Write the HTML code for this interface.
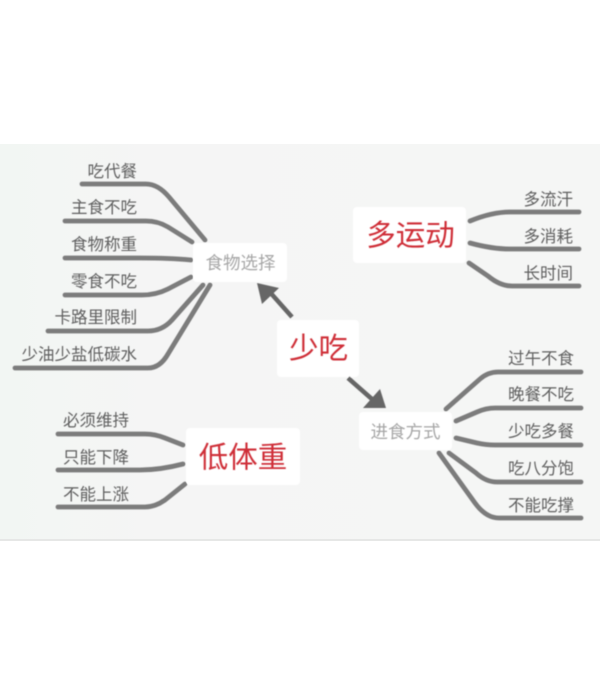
<!DOCTYPE html>
<html><head><meta charset="utf-8"><style>
html,body{margin:0;padding:0;background:#fff}
svg{display:block}
text{font-family:"Liberation Sans","Noto Sans CJK SC",sans-serif}
.l{font-size:16.5px;fill:#5f5f5f;text-anchor:end;dominant-baseline:central}
.c{fill:none;stroke:#7b7b7b;stroke-width:4.8;stroke-linecap:round}
.r{font-size:29.500px;fill:#cf2f38;text-anchor:middle;dominant-baseline:central}
.g{font-size:17.500px;fill:#a6a6a6;text-anchor:middle;dominant-baseline:central}
</style></head><body>
<svg width="600" height="684" viewBox="0 0 600 684" xmlns="http://www.w3.org/2000/svg">
<defs>
<linearGradient id="bg" x1="0" x2="1" y1="0" y2="0"><stop offset="0" stop-color="#f2f6f3"/><stop offset=".25" stop-color="#f5f5f5"/><stop offset="1" stop-color="#f5f6f5"/></linearGradient>
<filter id="b" x="-5%" y="-5%" width="110%" height="110%"><feGaussianBlur stdDeviation="0.45"/></filter>
</defs>
<rect x="0" y="144" width="600" height="396" fill="url(#bg)"/>
<rect x="0" y="539" width="600" height="2" fill="#e6e7e6"/>
<g filter="url(#b)">
<path class="c" d="M82 184H146Q158 184 169 197L205 240"/>
<path class="c" d="M65 221H146Q158 221 168 227L192 242"/>
<path class="c" d="M65 258H140Q170 258 191 260"/>
<path class="c" d="M65 295H142Q156 295 168 289L191 277"/>
<path class="c" d="M48 331H148Q162 331 172 320L203 285"/>
<path class="c" d="M15 368H148Q160 368 168 354L210 285"/>
<path class="c" d="M470 221Q492 212 510 212H579"/>
<path class="c" d="M470 243Q492 249 510 249H579"/>
<path class="c" d="M469 263L488 276Q500 286 512 286H579"/>
<path class="c" d="M446 409L480 379Q488 372 498 372H581"/>
<path class="c" d="M456 421L477 412Q486 408 495 408H581"/>
<path class="c" d="M456 438L477 443Q486 445 495 445H581"/>
<path class="c" d="M449 453L476 473Q486 482 497 482H581"/>
<path class="c" d="M439 453L475 503Q486 518 499 518H581"/>
<path class="c" d="M58 434H145Q155 434 165 438L183 445"/>
<path class="c" d="M58 470H140Q160 470 183 464"/>
<path class="c" d="M58 507H145Q155 507 165 500L185 484"/>
</g>
<g filter="url(#b)">
<rect x="193" y="243" width="94" height="39" rx="4" fill="#fff"/>
<rect x="359" y="412" width="93" height="38" rx="4" fill="#fff"/>
<rect x="277" y="320" width="82" height="57" rx="4" fill="#fff"/>
<rect x="353" y="207" width="113" height="56" rx="4" fill="#fff"/>
<rect x="186" y="428" width="114" height="57" rx="4" fill="#fff"/>
<path d="M292 317L268 290" stroke="#666" stroke-width="4.500" fill="none"/>
<path d="M257 283L279 288L262 304Z" fill="#666"/>
<path d="M348 378L373 400" stroke="#666" stroke-width="4.500" fill="none"/>
<path d="M386 408L363 408L380 389Z" fill="#666"/>
</g>
<g filter="url(#b)">
<text class="g" x="240.500" y="263">食物选择</text>
<text class="g" x="405.500" y="432">进食方式</text>
<text class="r" x="318.500" y="349">少吃</text>
<text class="r" x="410.500" y="236">多运动</text>
<text class="r" x="243" y="458">低体重</text>
<text class="l" x="137" y="172">吃代餐</text>
<text class="l" x="137" y="208">主食不吃</text>
<text class="l" x="137" y="245">食物称重</text>
<text class="l" x="137" y="282">零食不吃</text>
<text class="l" x="137" y="318">卡路里限制</text>
<text class="l" x="137" y="355">少油少盐低碳水</text>
<text class="l" x="573" y="200">多流汗</text>
<text class="l" x="573" y="237">多消耗</text>
<text class="l" x="573" y="274">长时间</text>
<text class="l" x="574" y="359">过午不食</text>
<text class="l" x="574" y="395">晚餐不吃</text>
<text class="l" x="574" y="432">少吃多餐</text>
<text class="l" x="574" y="469">吃八分饱</text>
<text class="l" x="574" y="506">不能吃撑</text>
<text class="l" x="129" y="421">必须维持</text>
<text class="l" x="129" y="458">只能下降</text>
<text class="l" x="129" y="495">不能上涨</text>
</g>
</svg>
</body></html>
